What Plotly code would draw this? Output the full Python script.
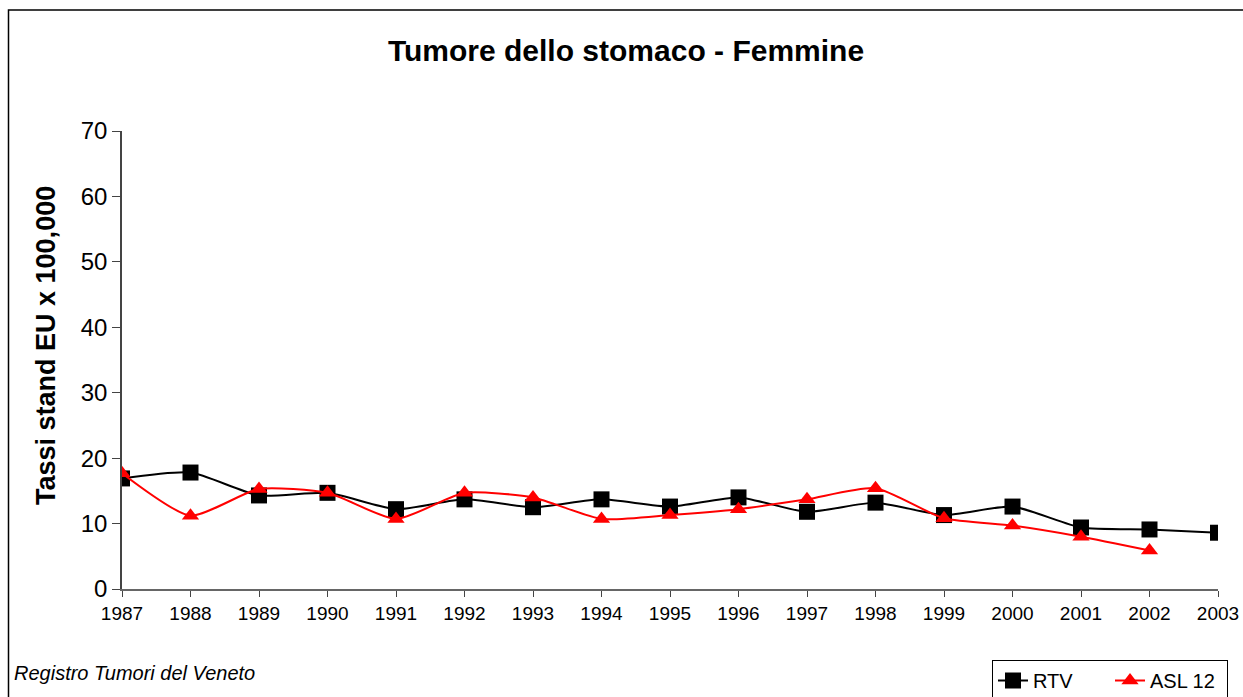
import plotly.graph_objects as go

years = [str(y) for y in range(1987, 2004)]
rtv = [16.9, 17.8, 14.3, 14.7, 12.2, 13.7, 12.5, 13.7, 12.6, 14.0, 11.8, 13.2, 11.3, 12.6, 9.4, 9.1, 8.6]
asl12 = [17.7, 11.2, 15.3, 14.7, 10.7, 14.7, 14.0, 10.7, 11.3, 12.2, 13.7, 15.4, 10.8, 9.7, 8.0, 5.9, None]
y_ticks = [0, 10, 20, 30, 40, 50, 60, 70]

# body margin removed via post_script, so page coords == figure coords
W, H = 1243, 697
L, R, T, B = 122, 1218, 131, 589
pw, ph = R - L, B - T

def px(xp):
    return (xp - L) / pw

def py(yp):
    return (B - yp) / ph

fig = go.Figure()
fig.add_trace(go.Scatter(
    x=years, y=rtv, name="RTV", mode="lines+markers",
    line=dict(color="black", width=2, shape="spline", smoothing=0.6),
    marker=dict(symbol="square", size=16, color="black"),
))
fig.add_trace(go.Scatter(
    x=years, y=asl12, name="ASL 12", mode="lines+markers",
    line=dict(color="#ff0000", width=2, shape="spline", smoothing=0.6),
    marker=dict(symbol="triangle-up", size=15, color="#ff0000"),
))

fig.update_layout(
    width=W, height=H,
    margin=dict(l=L, r=W - R, t=T, b=H - B, autoexpand=False),
    paper_bgcolor="white", plot_bgcolor="white",
    font=dict(family="Liberation Sans, Arial, sans-serif", color="black"),
    title=dict(text="<b>Tumore dello stomaco - Femmine</b>", x=626 / W, xanchor="center",
               y=1 - 50 / H, yanchor="middle", font=dict(size=30, color="black")),
    showlegend=True,
    legend=dict(orientation="h", x=px(992), xanchor="left", y=py(660), yanchor="top",
                bgcolor="white", bordercolor="black", borderwidth=1,
                font=dict(size=20, color="black"), tracegroupgap=0,
                entrywidth=72, entrywidthmode="pixels"),
)
fig.update_xaxes(
    type="category", range=[0, 16], showgrid=False, zeroline=False,
    showline=True, linecolor="#666", linewidth=1.5,
    ticks="outside", ticklen=6, tickcolor="#444", tickwidth=1,
    tickfont=dict(size=19, color="black"),
)
fig.update_yaxes(
    range=[0, 70], tickvals=y_ticks, showgrid=False, zeroline=False,
    showline=True, linecolor="#444", linewidth=1.5,
    ticks="outside", ticklen=8, tickcolor="#444", tickwidth=1,
    tickfont=dict(size=24, color="black"),
)

fig.add_annotation(
    text="<b>Tassi stand EU x 100,000</b>", textangle=-90,
    xref="paper", yref="paper", x=px(46), y=py(346), xanchor="center", yanchor="middle",
    showarrow=False, font=dict(size=27, color="black"),
)
fig.add_annotation(
    text="<i>Registro Tumori del Veneto</i>",
    xref="paper", yref="paper", x=px(12), y=py(673), xanchor="left", yanchor="middle",
    showarrow=False, font=dict(size=20, color="black"),
)
fig.add_shape(
    type="rect", xref="paper", yref="paper",
    x0=px(8.5), y0=py(720), x1=px(1260), y1=py(10),
    line=dict(color="black", width=1.5), fillcolor="rgba(0,0,0,0)", layer="below",
)

fig.write_html(
    "out.html",
    config={"displayModeBar": False},
    post_script="document.body.style.margin='0';document.body.style.overflow='hidden';",
)
